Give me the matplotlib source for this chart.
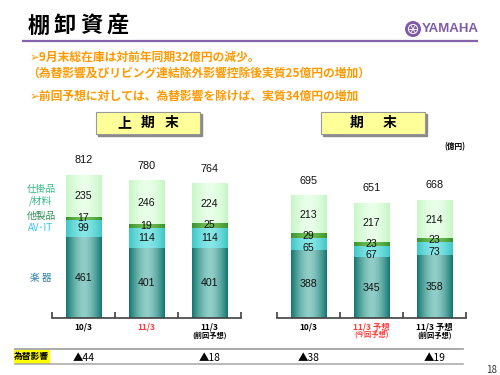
import numpy as np
import matplotlib
matplotlib.use("Agg")
import matplotlib.pyplot as plt
from matplotlib.patches import Rectangle, Circle
from matplotlib.colors import to_rgb
from matplotlib import font_manager as fm

plt.rcParams['font.family'] = ['Noto Sans CJK JP', 'DejaVu Sans']

# ---------------- data ----------------
title = "棚卸資産"
bullet1 = "➢9月末総在庫は対前年同期32億円の減少。"
bullet2 = "（為替影響及びリビング連結除外影響控除後実質25億円の増加）"
bullet3 = "➢前回予想に対しては、為替影響を除けば、実質34億円の増加"
group_titles = ["上期末", "期末"]
unit_label = "(億円)"
segment_names = ["楽 器", "AV･IT", "他製品", "仕掛品\n/材料"]

h1_cats = ["10/3", "11/3", "11/3"]
h1_subs = ["", "", "(前回予想)"]
h1_cat_red = [False, True, False]
h1_gakki = [461, 401, 401]
h1_avit = [99, 114, 114]
h1_other = [17, 19, 25]
h1_wip = [235, 246, 224]
h1_total = [812, 780, 764]

fy_cats = ["10/3", "11/3 予想", "11/3 予想"]
fy_subs = ["", "(今回予想)", "(前回予想)"]
fy_cat_red = [False, True, False]
fy_gakki = [388, 345, 358]
fy_avit = [65, 67, 73]
fy_other = [29, 23, 23]
fy_wip = [213, 217, 214]
fy_total = [695, 651, 668]

fx_title = "為替影響"
h1_fx = ["▲44", "", "▲18"]
fy_fx = ["▲38", "", "▲19"]
page_no = "18"

# ---------------- style ----------------
seg_edge = ["#12776F", "#3EC6C6", "#3A922C", "#C6F6C6"]
seg_center = ["#92CEC8", "#88E6E6", "#6FBE55", "#E9FFE9"]
name_colors = ["#2A7FA5", "#33C8F0", "#2E8B57", "#2DBB7F"]
name_dy = [0, 0, 1.5, 0.8]      # small vertical nudges (points) for the side labels
h1_label_dy = [0, 0, 0, 0]      # per-segment label nudges (points)
fy_label_dy = [0, -2.5, 0, 0]
orange = "#FF9900"
purple = "#7E5BA6"
red = "#FF3B3B"
W, H = 500, 375

fig = plt.figure(figsize=(5, 3.75), dpi=100)
ov = fig.add_axes([0, 0, 1, 1])
ov.set_xlim(0, W)
ov.set_ylim(H, 0)
ov.axis('off')


def px_axes(x0, y0, x1, y1):
    a = fig.add_axes([x0 / W, 1 - y1 / H, (x1 - x0) / W, (y1 - y0) / H])
    a.patch.set_alpha(0)
    return a


def spaced(xc, y, txt, pitch, **kw):
    n = len(txt)
    for i, ch in enumerate(txt):
        ov.text(xc + (i - (n - 1) / 2) * pitch, y, ch, ha='center', va='center', **kw)


# title + logo
spaced(78, 26, title, 26.5, fontsize=16, fontweight='bold', color='black')
ov.plot([22, 478], [41, 41], color="#8463AC", lw=1.6, solid_capstyle='butt')
ov.add_patch(Circle((413, 29), 7.3, color=purple))
ov.add_patch(Circle((413, 29), 4.6, fill=False, ec='white', lw=0.7))
for ang in np.arange(0, 180, 60):
    dx, dy = 4.2 * np.cos(np.radians(ang)), 4.2 * np.sin(np.radians(ang))
    ov.plot([413 - dx, 413 + dx], [29 - dy, 29 + dy], color='white', lw=0.6)
names = {f.name for f in fm.fontManager.ttflist}
if 'Liberation Sans Narrow' in names:
    ov.text(422, 29.5, "YAMAHA", family='Liberation Sans Narrow', fontweight='bold',
            fontsize=12.5, color=purple, ha='left', va='center')
else:
    ov.text(422, 29.5, "YAMAHA", family='Liberation Sans', fontweight='bold',
            fontsize=9.5, color=purple, ha='left', va='center')

# bullets
bkw = dict(fontsize=8.5, fontweight='bold', color=orange, va='center', ha='left',
           family=['Noto Sans CJK JP', 'DejaVu Sans'])
ov.text(30, 57, bullet1, **bkw)
ov.text(27, 73, bullet2, **bkw)
ov.text(30, 96, bullet3, **bkw)

# group header boxes
for (x0, x1), gt, pitch in zip([(96, 200), (321, 425)], group_titles, [24, 33]):
    ov.add_patch(Rectangle((x0 + 1.5, 113.5), x1 - x0, 22, color="#8A8A8A", zorder=1))
    ov.add_patch(Rectangle((x0, 112), x1 - x0, 22, fc="#FFFF99", ec="#9A9A9A", lw=0.8, zorder=2))
    spaced((x0 + x1) / 2, 123, gt, pitch, fontsize=10, fontweight='bold', color='black', zorder=3)

ov.text(455, 147, unit_label, fontsize=5.5, fontweight='bold', ha='center', va='center')

# bottom FX row
ov.plot([15, 463], [349, 349], color="#A5A5A5", lw=1.3)
ov.plot([15, 463], [364, 364], color="#A5A5A5", lw=1.1)
ov.add_patch(Rectangle((14, 350), 35, 13, color="#FFFF00"))
ov.text(31.5, 356.5, fx_title, fontsize=6.3, fontweight='bold', ha='center', va='center')
ov.text(492, 370, page_no, fontsize=7, color='#333333', ha='center', va='center')


def gradient_bar(ax, patch, edge, center):
    x0, y0 = patch.get_x(), patch.get_y()
    w, h = patch.get_width(), patch.get_height()
    t = np.abs(np.linspace(-1, 1, 80)) ** 1.6
    e, c = np.array(to_rgb(edge)), np.array(to_rgb(center))
    img = (c[None, :] + (e - c)[None, :] * t[:, None])[None, :, :]
    ax.imshow(img, extent=(x0, x0 + w, y0, y0 + h), aspect='auto',
              interpolation='bilinear', zorder=2)


def draw_group(ax, cats, subs, reds, segs, totals, fx, label_dy):
    x = np.arange(len(cats))
    bottom = np.zeros(len(cats))
    for k, vals in enumerate(segs):
        vals = np.array(vals, dtype=float)
        bars = ax.bar(x, vals, 0.556, bottom=bottom, color=seg_center[k], lw=0, zorder=1)
        for p in bars:
            gradient_bar(ax, p, seg_edge[k], seg_center[k])
        for xi, b, v in zip(x, bottom, vals):
            ax.annotate(f"{int(v)}", (xi, b + v / 2), xytext=(0, label_dy[k]),
                        textcoords='offset points', ha='center', va='center',
                        fontsize=7.6, family='Liberation Sans', color='#111111',
                        zorder=4)
        bottom += vals
    for xi, t in zip(x, totals):
        ax.annotate(f"{t}", (xi, t), xytext=(0, 11), textcoords='offset points',
                    ha='center', va='center', fontsize=7.8, family='Liberation Sans',
                    color='#111111')
    ax.set_xlim(-0.5, len(cats) - 0.5)
    ax.set_ylim(0, 900)
    for s in ['top', 'left', 'right']:
        ax.spines[s].set_visible(False)
    ax.spines['bottom'].set_color('#404040')
    ax.spines['bottom'].set_linewidth(1.2)
    ax.set_yticks([])
    ax.set_xticks(x)
    ax.set_xticklabels(cats, fontsize=6, fontweight='bold')
    for lbl, r in zip(ax.get_xticklabels(), reds):
        lbl.set_color(red if r else 'black')
    ax.tick_params(axis='x', which='major', length=0, pad=3)
    ax.set_xticks(np.arange(len(cats) + 1) - 0.5, minor=True)
    ax.tick_params(axis='x', which='minor', direction='in', length=4, width=1.2,
                   color='#404040')
    for xi, s, r in zip(x, subs, reds):
        if s:
            ax.annotate(s, xy=(xi, 0), xycoords=ax.get_xaxis_transform(),
                        xytext=(0, -12), textcoords='offset points', ha='center',
                        va='center', fontsize=5.2, fontweight='bold',
                        color=red if r else 'black', annotation_clip=False)
    for xi, f in zip(x, fx):
        if f:
            ax.annotate(f, xy=(xi, H - 358), xycoords=('data', 'figure pixels'),
                        ha='center', va='center', fontsize=7.5,
                        annotation_clip=False)


axL = px_axes(52, 160, 241, 318)
draw_group(axL, h1_cats, h1_subs, h1_cat_red,
           [h1_gakki, h1_avit, h1_other, h1_wip], h1_total, h1_fx, h1_label_dy)
axR = px_axes(277, 160, 466, 318)
draw_group(axR, fy_cats, fy_subs, fy_cat_red,
           [fy_gakki, fy_avit, fy_other, fy_wip], fy_total, fy_fx, fy_label_dy)

# segment name labels left of first group, aligned with first bar segments
first = [h1_gakki[0], h1_avit[0], h1_other[0], h1_wip[0]]
cum = 0
for name, v, col, dy in zip(segment_names, first, name_colors, name_dy):
    axL.annotate(name, xy=(41, cum + v / 2), xycoords=('figure pixels', 'data'),
                 xytext=(0, dy), textcoords='offset points',
                 ha='center', va='center', fontsize=7, color=col,
                 linespacing=1.1, annotation_clip=False)
    cum += v

fig.savefig("out.png", dpi=100)
